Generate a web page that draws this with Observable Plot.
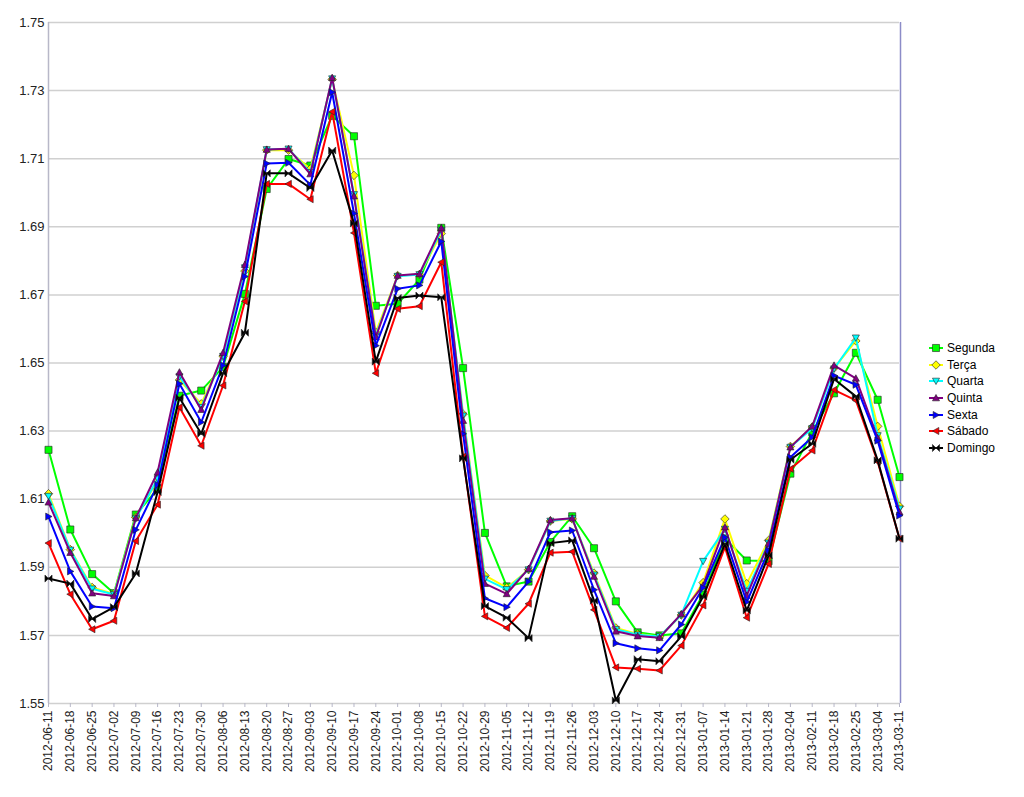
<!DOCTYPE html>
<html>
<head>
<meta charset="utf-8">
<script src="https://cdn.jsdelivr.net/npm/d3@7"></script>
<script src="https://cdn.jsdelivr.net/npm/@observablehq/plot@0.6"></script>
<style>
  html, body { margin: 0; padding: 0; background: #fff; }
  #wrap { position: relative; width: 1024px; height: 797px; font-family: "Liberation Sans", Arial, sans-serif; }
  #legend { position: absolute; left: 928px; top: 340px; font-size: 12px; color: #000; }
  #legend .row { display: flex; align-items: center; height: 16.6px; }
  #legend svg { margin-right: 3px; }
</style>
</head>
<body>
<div id="wrap"><div id="chart"></div><div id="legend"></div></div>
<script>
const dates = ["2012-06-11","2012-06-18","2012-06-25","2012-07-02","2012-07-09","2012-07-16","2012-07-23","2012-07-30","2012-08-06","2012-08-13","2012-08-20","2012-08-27","2012-09-03","2012-09-10","2012-09-17","2012-09-24","2012-10-01","2012-10-08","2012-10-15","2012-10-22","2012-10-29","2012-11-05","2012-11-12","2012-11-19","2012-11-26","2012-12-03","2012-12-10","2012-12-17","2012-12-24","2012-12-31","2013-01-07","2013-01-14","2013-01-21","2013-01-28","2013-02-04","2013-02-11","2013-02-18","2013-02-25","2013-03-04","2013-03-11"];

const seriesNames = ["Segunda","Terça","Quarta","Quinta","Sexta","Sábado","Domingo"];
const seriesColors = ["#00ff00","#ffff00","#00ffff","#800080","#0000ff","#ff0000","#000000"];

const segunda = [1.6245,1.6011,1.5880,1.5824,1.6055,1.6130,1.6404,1.6419,1.6488,1.6703,1.7011,1.7099,1.7080,1.7226,1.7166,1.6668,1.6674,1.6745,1.6897,1.6485,1.6001,1.5844,1.5858,1.5974,1.6050,1.5956,1.5800,1.5709,1.5700,1.5706,1.5820,1.5985,1.5920,1.5918,1.6175,1.6297,1.6411,1.6530,1.6392,1.6165];
const terca = [1.6116,1.5952,1.5841,1.5822,1.6047,1.6155,1.6450,1.6380,1.6520,1.6770,1.7125,1.7125,1.7070,1.7333,1.7051,1.6590,1.6757,1.6760,1.6880,1.6350,1.5876,1.5840,1.5893,1.6036,1.6042,1.5883,1.5722,1.5704,1.5697,1.5760,1.5855,1.6042,1.5852,1.5979,1.6255,1.6312,1.6485,1.6565,1.6314,1.6079];
const quarta = [1.6109,1.5951,1.5837,1.5820,1.6043,1.6160,1.6460,1.6370,1.6520,1.6780,1.7127,1.7129,1.7060,1.7335,1.6995,1.6580,1.6755,1.6760,1.6890,1.6345,1.5866,1.5835,1.5893,1.6036,1.6044,1.5878,1.5718,1.5702,1.5697,1.5760,1.5918,1.6012,1.5830,1.5972,1.6253,1.6308,1.6483,1.6574,1.6287,1.6072];
const quinta = [1.6091,1.5943,1.5824,1.5816,1.6045,1.6179,1.6473,1.6363,1.6530,1.6789,1.7127,1.7129,1.7055,1.7338,1.6990,1.6576,1.6757,1.6762,1.6897,1.6331,1.5852,1.5822,1.5896,1.6039,1.6044,1.5873,1.5712,1.5698,1.5693,1.5763,1.5847,1.6018,1.5817,1.5970,1.6253,1.6314,1.6493,1.6455,1.6280,1.6062];
const sexta = [1.6049,1.5888,1.5785,1.5780,1.6010,1.6142,1.6439,1.6326,1.6493,1.6754,1.7086,1.7088,1.7023,1.7295,1.6939,1.6551,1.6718,1.6728,1.6857,1.6292,1.5809,1.5783,1.5858,1.6003,1.6008,1.5834,1.5677,1.5662,1.5656,1.5732,1.5840,1.5988,1.5798,1.5949,1.6223,1.6282,1.6463,1.6436,1.6272,1.6052];
const sabado = [1.5971,1.5821,1.5718,1.5743,1.5977,1.6084,1.6370,1.6257,1.6434,1.6681,1.7026,1.7026,1.6981,1.7238,1.6882,1.6470,1.6659,1.6667,1.6796,1.6225,1.5756,1.5722,1.5793,1.5943,1.5946,1.5775,1.5606,1.5602,1.5597,1.5670,1.5788,1.5959,1.5752,1.5910,1.6189,1.6243,1.6421,1.6390,1.6210,1.5984];
const domingo = [1.5867,1.5852,1.5748,1.5783,1.5882,1.6121,1.6398,1.6292,1.6470,1.6589,1.7057,1.7057,1.7014,1.7124,1.6910,1.6504,1.6691,1.6698,1.6693,1.6220,1.5786,1.5752,1.5692,1.5971,1.5979,1.5802,1.5509,1.5630,1.5624,1.5697,1.5814,1.5969,1.5773,1.5935,1.6216,1.6263,1.6453,1.6402,1.6214,1.5984];

const yTicks = [1.55,1.57,1.59,1.61,1.63,1.65,1.67,1.69,1.71,1.73,1.75];

const seriesValues = [segunda, terca, quarta, quinta, sexta, sabado, domingo];

// custom marker shapes (size = area)
function mk(fn) { return { draw(ctx, size) { fn(ctx, Math.sqrt(size) / 2); } }; }
const symSquare = mk((c, r) => { c.moveTo(-r, -r); c.lineTo(r, -r); c.lineTo(r, r); c.lineTo(-r, r); c.closePath(); });
const symDiamond = mk((c, r) => { const a = r * 1.2; c.moveTo(0, -a); c.lineTo(a, 0); c.lineTo(0, a); c.lineTo(-a, 0); c.closePath(); });
const symDown = mk((c, r) => { c.moveTo(-r, -r * 0.8); c.lineTo(r, -r * 0.8); c.lineTo(0, r); c.closePath(); });
const symUp = mk((c, r) => { c.moveTo(-r, r * 0.8); c.lineTo(r, r * 0.8); c.lineTo(0, -r); c.closePath(); });
const symRight = mk((c, r) => { c.moveTo(-r * 0.8, -r); c.lineTo(-r * 0.8, r); c.lineTo(r, 0); c.closePath(); });
const symLeft = mk((c, r) => { c.moveTo(r * 0.8, -r); c.lineTo(r * 0.8, r); c.lineTo(-r, 0); c.closePath(); });
const symBow = mk((c, r) => { c.moveTo(-r, -r); c.lineTo(0, 0); c.lineTo(-r, r); c.closePath(); c.moveTo(r, -r); c.lineTo(0, 0); c.lineTo(r, r); c.closePath(); });
const seriesSymbols = [symSquare, symDiamond, symDown, symUp, symRight, symLeft, symBow];

const seriesMarks = [];
seriesNames.forEach((name, k) => {
  const data = seriesValues[k].map((v, i) => ({ date: dates[i], value: v }));
  seriesMarks.push(Plot.line(data, { x: "date", y: "value", stroke: seriesColors[k], strokeWidth: 2 }));
  seriesMarks.push(Plot.dot(data, { x: "date", y: "value", symbol: seriesSymbols[k], r: 4, fill: seriesColors[k], stroke: "#222", strokeWidth: 0.6 }));
});

const chart = Plot.plot({
  width: 1024,
  height: 797,
  marginLeft: 48,
  marginRight: 125,
  marginTop: 22,
  marginBottom: 94,
  style: { fontFamily: "Liberation Sans, Arial, sans-serif", background: "#fff" },
  x: { type: "point", domain: dates, padding: 0 },
  y: { domain: [1.55, 1.75] },
  marks: [
    Plot.ruleY(yTicks, { stroke: "#d0d0d0", strokeWidth: 1.5 }),
    Plot.ruleX([dates[0]], { stroke: "#b8b8c8", strokeWidth: 1.5 }),
    Plot.ruleX([dates[dates.length - 1]], { stroke: "#8c8cc8", strokeWidth: 1.5, dx: 1 }),
    Plot.axisY({ ticks: yTicks, tickFormat: d3.format(".2f"), tickSize: 0, tickPadding: 4, fontSize: 13, color: "#222", label: null }),
    Plot.axisX({ ticks: dates, tickRotate: -90, tickSize: 4, tickPadding: 3, fontSize: 12, color: "#222", stroke: "#b8b8c8", label: null }),
    ...seriesMarks
  ]
});
document.getElementById("chart").appendChild(chart);

// legend
const legend = d3.select("#legend");
seriesNames.forEach((name, k) => {
  const row = legend.append("div").attr("class", "row");
  const svg = row.append("svg").attr("width", 16).attr("height", 12);
  svg.append("line").attr("x1", 1).attr("x2", 15).attr("y1", 6).attr("y2", 6)
    .attr("stroke", seriesColors[k]).attr("stroke-width", 2);
  svg.append("path").attr("transform", "translate(8,6)")
    .attr("d", d3.symbol().type(seriesSymbols[k]).size(50)())
    .attr("fill", seriesColors[k]).attr("stroke", "#222").attr("stroke-width", 0.6);
  row.append("span").text(name);
});
</script>
</body>
</html>
